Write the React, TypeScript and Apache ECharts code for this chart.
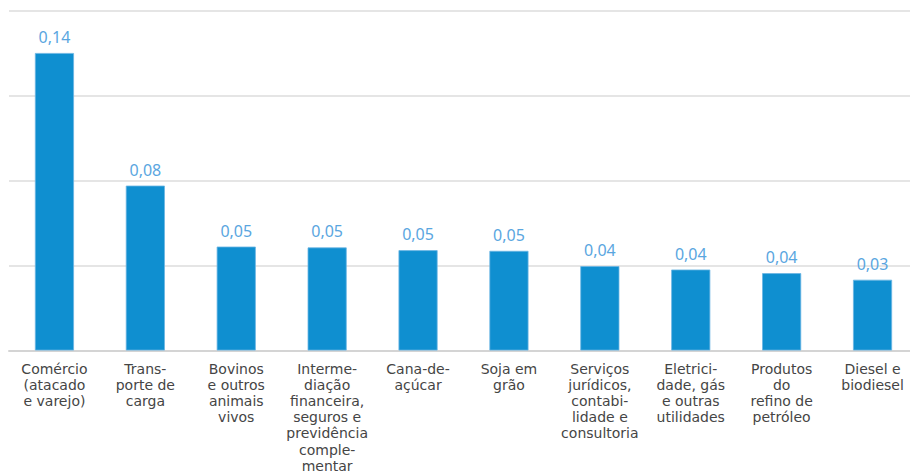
import React, { useEffect, useRef } from "react";
import * as echarts from "echarts";

const categories: string[] = [
  "Comércio\n(atacado\ne varejo)",
  "Trans-\nporte de\ncarga",
  "Bovinos\ne outros\nanimais\nvivos",
  "Interme-\ndiação\nfinanceira,\nseguros e\nprevidência\ncomple-\nmentar",
  "Cana-de-\naçúcar",
  "Soja em\ngrão",
  "Serviços\njurídicos,\ncontabi-\nlidade e\nconsultoria",
  "Eletrici-\ndade, gás\ne outras\nutilidades",
  "Produtos\ndo\nrefino de\npetróleo",
  "Diesel e\nbiodiesel",
];

const values: number[] = [0.140, 0.0776, 0.0489, 0.0485, 0.0472, 0.0469, 0.0397, 0.0381, 0.0364, 0.0333];

const yMin = 0;
const yMax = 0.16;
const yInterval = 0.04;

export default function App() {
  const ref = useRef<HTMLDivElement>(null);
  useEffect(() => {
    document.body.style.overflow = "hidden";
    document.documentElement.style.overflow = "hidden";
    const chart = echarts.init(ref.current!, null, { renderer: "svg" });
    chart.setOption({
      animation: false,
      backgroundColor: "#ffffff",
      grid: {
        left: 9,
        right: 0,
        top: 10.5,
        bottom: 123.5,
        containLabel: false,
        outerBoundsMode: "none",
      },
      xAxis: {
        type: "category",
        data: categories,
        axisLine: { show: true, lineStyle: { color: "#d4d4d4", width: 2 } },
        axisTick: { show: false },
        axisLabel: {
          interval: 0,
          color: "#454545",
          fontSize: 14,
          lineHeight: 16.2,
          fontFamily: "DejaVu Sans",
          margin: 10,
          align: "center",
        },
      },
      yAxis: {
        type: "value",
        min: yMin,
        max: yMax,
        interval: yInterval,
        axisLabel: { show: false },
        axisLine: { show: false },
        axisTick: { show: false },
        splitLine: { show: true, lineStyle: { color: "#dcdcdc", width: 1.5 } },
      },
      series: [
        {
          type: "bar",
          data: values,
          barWidth: "43%",
          itemStyle: { color: "#0f8fd0", borderColor: "#6bb5e3", borderWidth: 0.8 },
          label: {
            show: true,
            position: "top",
            distance: 8,
            color: "#5aa6df",
            fontSize: 16,
            fontFamily: "Noto Sans",
            formatter: (p: any) => (p.value as number).toFixed(2).replace(".", ","),
          },
        },
      ],
    });
    return () => chart.dispose();
  }, []);
  return (
    <div style={{ position: "absolute", left: 0, top: 0, width: 910, height: 474, overflow: "hidden" }}>
      <div ref={ref} style={{ width: 918, height: 474 }} />
    </div>
  );
}
